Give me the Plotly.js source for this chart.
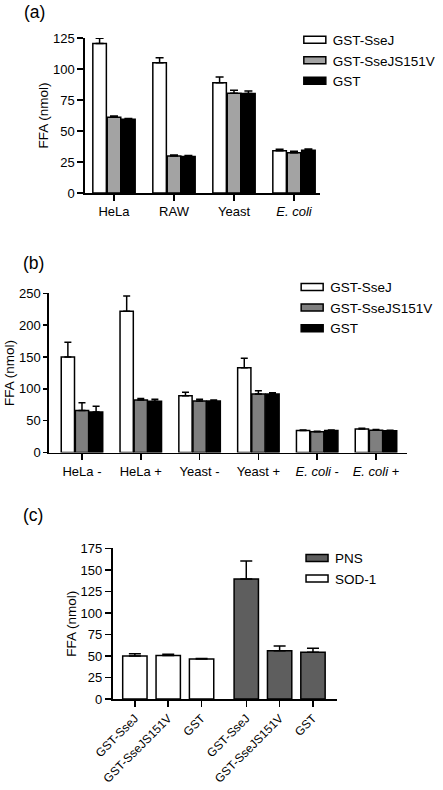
<!DOCTYPE html>
<html><head><meta charset="utf-8">
<script src="https://cdn.plot.ly/plotly-3.0.1.min.js"></script>
<style>html,body{margin:0;padding:0;background:#fff}#chart{width:443px;height:790px}</style>
</head><body><div id="chart"></div>
<script>
// ---------- data ----------
const seriesNames = ['GST-SseJ', 'GST-SseJS151V', 'GST'];

// Panel (a)
const categoriesA = ['HeLa', 'RAW', 'Yeast', 'E. coli'];
const tickLabelsA = ['HeLa', 'RAW', 'Yeast', '<i>E. coli</i>'];
const sseJA = [120.5, 105, 89, 34];
const sseJAErr = [4.3, 4, 4.5, 1.2];
const s151vA = [61, 29.8, 80.4, 32.4];
const s151vAErr = [1, 0.8, 2.5, 1.2];
const gstA = [59.5, 29.5, 80.2, 34.5];
const gstAErr = [0.6, 0.8, 2, 1];

// Panel (b)
const categoriesB = ['HeLa -', 'HeLa +', 'Yeast -', 'Yeast +', 'E. coli -', 'E. coli +'];
const tickLabelsB = ['HeLa -', 'HeLa +', 'Yeast -', 'Yeast +', '<i>E. coli</i> -', '<i>E. coli</i> +'];
const sseJB = [150, 222, 89, 133, 34.5, 37];
const sseJBErr = [23, 24, 5.5, 15, 1, 1];
const s151vB = [66, 82.5, 81, 92, 32.5, 35];
const s151vBErr = [12, 2.5, 2.5, 5, 1, 1.2];
const gstB = [63.5, 80.5, 81, 92, 34.5, 34];
const gstBErr = [9, 3, 1.5, 2, 1, 1];

// Panel (c)
const proteinsC = ['GST-SseJ', 'GST-SseJS151V', 'GST'];
const groupNamesC = ['PNS', 'SOD-1'];
const pnsC = [139.5, 56, 54.3];
const pnsCErr = [21, 5.7, 4.6];
const sod1C = [50, 50.5, 46.5];
const sod1CErr = [2.5, 1.5, 0.7];

// ---------- style ----------
const FONT = 'Liberation Sans, Arial, sans-serif';
const colorsA = ['#ffffff', '#a3a3a3', '#000000'];
const colorsB = ['#ffffff', '#7f7f7f', '#000000'];
const colorPNS = '#5e5e5e';
const colorSOD = '#ffffff';
const GROUP_GAP_C = 0.34;

const zeros = arr => arr.map(() => 0);
function barTrace(name, x, y, err, color, xa, ya, leg, capw, extra) {
  return Object.assign({
    type: 'bar', name: name, x: x, y: y,
    xaxis: xa, yaxis: ya, legend: leg, cliponaxis: false,
    marker: { color: color, line: { color: '#000', width: 1.5 } },
    error_y: { type: 'data', symmetric: false, array: err, arrayminus: zeros(err),
               color: '#000', thickness: 1.5, width: capw }
  }, extra || {});
}

const valsA = [sseJA, s151vA, gstA], errsA = [sseJAErr, s151vAErr, gstAErr];
const valsB = [sseJB, s151vB, gstB], errsB = [sseJBErr, s151vBErr, gstBErr];

const data = [];
seriesNames.forEach((n, i) => data.push(barTrace(n, categoriesA, valsA[i], errsA[i], colorsA[i], 'x', 'y', 'legend', 4)));
seriesNames.forEach((n, i) => data.push(barTrace(n, categoriesB, valsB[i], errsB[i], colorsB[i], 'x2', 'y2', 'legend2', 3.5)));

const posSOD = proteinsC.map((_, i) => i);
const posPNS = proteinsC.map((_, i) => i + proteinsC.length + GROUP_GAP_C);
data.push(barTrace(groupNamesC[0], posPNS, pnsC, pnsCErr, colorPNS, 'x3', 'y3', 'legend3', 6, { width: 0.73, offset: -0.365 }));
data.push(barTrace(groupNamesC[1], posSOD, sod1C, sod1CErr, colorSOD, 'x3', 'y3', 'legend3', 6, { width: 0.73, offset: -0.365 }));

const axisBase = {
  showline: true, linecolor: '#000', linewidth: 1.6, ticks: 'outside', ticklen: 6,
  tickwidth: 1.5, tickcolor: '#000', showgrid: false, zeroline: false, fixedrange: true,
  tickfont: { family: FONT, size: 13, color: '#000' }
};
const yTitle = (standoff) => ({ text: 'FFA (nmol)', font: { family: FONT, size: 13.5, color: '#000' }, standoff: standoff });
const legendBase = { xanchor: 'left', yanchor: 'top', bgcolor: 'rgba(0,0,0,0)', borderwidth: 0,
  font: { family: FONT, size: 13.5, color: '#000' }, traceorder: 'normal' };
const panelLabel = (t, x, y) => ({ text: t, x: x, y: y, xref: 'paper', yref: 'paper', xanchor: 'left', yanchor: 'middle',
  showarrow: false, font: { family: FONT, size: 17.5, color: '#000' } });

const layout = {
  width: 443, height: 790, margin: { l: 0, r: 0, t: 0, b: 0 },
  paper_bgcolor: '#fff', plot_bgcolor: '#fff',
  barmode: 'group', bargap: 0.28, bargroupgap: 0.06, showlegend: true,
  xaxis: Object.assign({}, axisBase, { domain: [0.1919, 0.7223], anchor: 'y', type: 'category',
    categoryorder: 'array', categoryarray: categoriesA, range: [-0.483, 3.433],
    tickvals: categoriesA, ticktext: tickLabelsA }),
  yaxis: Object.assign({}, axisBase, { domain: [0.7557, 0.9519], anchor: 'x', range: [0, 125],
    tick0: 0, dtick: 25, title: yTitle(1) }),
  xaxis2: Object.assign({}, axisBase, { domain: [0.1106, 0.9187], anchor: 'y2', type: 'category',
    categoryorder: 'array', categoryarray: categoriesB, range: [-0.561, 5.527],
    tickvals: categoriesB, ticktext: tickLabelsB }),
  yaxis2: Object.assign({}, axisBase, { domain: [0.4272, 0.6287], anchor: 'x2', range: [0, 250],
    tick0: 0, dtick: 50, ticklen: 4, title: yTitle(1) }),
  xaxis3: Object.assign({}, axisBase, { domain: [0.2540, 0.7607], anchor: 'y3', type: 'linear',
    range: [-0.67, 6.06], tickvals: posSOD.concat(posPNS), ticktext: proteinsC.concat(proteinsC),
    tickangle: -45, tickfont: { family: FONT, size: 12, color: '#000' } }),
  yaxis3: Object.assign({}, axisBase, { domain: [0.1152, 0.3057], anchor: 'x3', range: [0, 175],
    tick0: 0, dtick: 25, title: yTitle(1) }),
  legend: Object.assign({}, legendBase, { x: 0.661, y: 0.969 }),
  legend2: Object.assign({}, legendBase, { x: 0.655, y: 0.656 }),
  legend3: Object.assign({}, legendBase, { x: 0.666, y: 0.313 }),
  annotations: [
    panelLabel('(a)', 0.050, 1 - 12 / 790),
    panelLabel('(b)', 0.048, 1 - 263 / 790),
    panelLabel('(c)', 0.048, 1 - 515 / 790)
  ]
};

Plotly.newPlot('chart', data, layout, { staticPlot: true, displayModeBar: false }).then(gd => {
  gd.querySelectorAll('.legendpoints path').forEach(p => p.setAttribute('d', 'M13,3.5H-9V-3.5H13Z'));
});
</script>
</body></html>
